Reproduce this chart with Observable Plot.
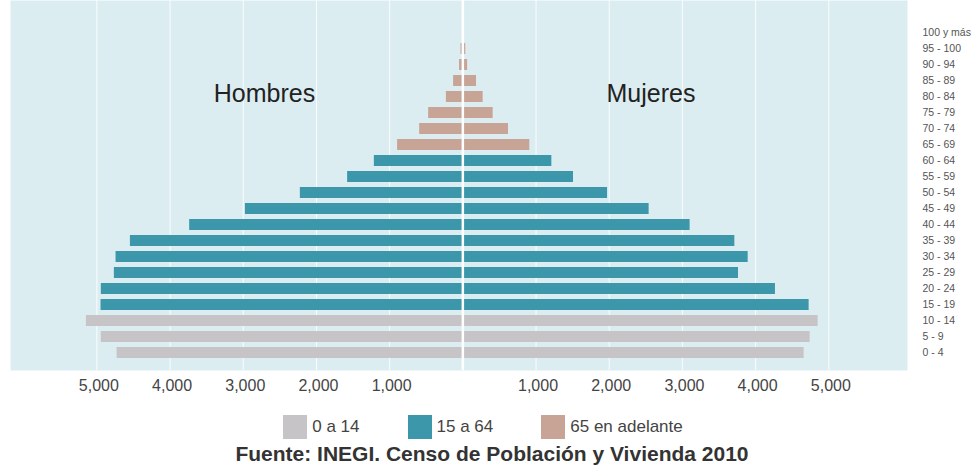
<!DOCTYPE html>
<html>
<head>
<meta charset="utf-8">
<script src="https://cdn.jsdelivr.net/npm/d3@7"></script>
<script src="https://cdn.jsdelivr.net/npm/@observablehq/plot@0.6"></script>
<style>
  html, body { margin: 0; padding: 0; background: #ffffff; }
  body { width: 974px; height: 472px; overflow: hidden; font-family: "Liberation Sans", Arial, sans-serif; }
  #chart svg { display: block; }
  #legend { padding-right: 8px; }
  div.leg-swatches { font-family: "Liberation Sans", Arial, sans-serif !important; font-size: 17px !important; color: #444; justify-content: center; margin: 10px 0 0 0 !important; min-height: 33px; }
  .leg-swatches .leg-swatch { margin-right: 48px !important; }
  .leg-swatches .leg-swatch:last-child { margin-right: 0 !important; }
  .leg-swatches .leg-swatch > svg { margin-right: 5px !important; }
  #caption { text-align: center; font-weight: bold; font-size: 21px; line-height: 22px; color: #333; margin-top: 0px; padding-left: 10px; }
</style>
</head>
<body>
<div id="chart"></div>
<div id="legend"></div>
<div id="caption">Fuente: INEGI. Censo de Población y Vivienda 2010</div>
<script>
// Age groups, bottom (youngest) to top (oldest)
const ages = ["0 - 4", "5 - 9", "10 - 14", "15 - 19", "20 - 24", "25 - 29", "30 - 34", "35 - 39",
  "40 - 44", "45 - 49", "50 - 54", "55 - 59", "60 - 64", "65 - 69", "70 - 74", "75 - 79",
  "80 - 84", "85 - 89", "90 - 94", "95 - 100", "100 y más"];
// Population
const hombres = [4724, 4939, 5143, 4943, 4939, 4761, 4738, 4542, 3732, 2971, 2220, 1574, 1209, 891, 590, 467, 225, 126, 45, 25, 5];
const mujeres = [4663, 4745, 4854, 4731, 4271, 3766, 3898, 3716, 3105, 2545, 1977, 1512, 1216, 915, 624, 414, 277, 187, 65, 40, 8];
// Broad age group of each row
const grupoDeEdad = ["0 a 14", "0 a 14", "0 a 14", "15 a 64", "15 a 64", "15 a 64", "15 a 64", "15 a 64",
  "15 a 64", "15 a 64", "15 a 64", "15 a 64", "15 a 64", "65 en adelante", "65 en adelante", "65 en adelante",
  "65 en adelante", "65 en adelante", "65 en adelante", "65 en adelante", "65 en adelante"];
const grupos = ["0 a 14", "15 a 64", "65 en adelante"];
const coloresGrupo = ["#c6c4c7", "#3b97a9", "#c8a496"];
const xTicks = [-5000, -4000, -3000, -2000, -1000, 1000, 2000, 3000, 4000, 5000];
const sexos = ["Hombres", "Mujeres"];

const rows = [];
ages.forEach((age, i) => {
  rows.push({age, sexo: "Hombres", value: hombres[i], grupo: grupoDeEdad[i], signed: -hombres[i]});
  rows.push({age, sexo: "Mujeres", value: mujeres[i], grupo: grupoDeEdad[i], signed: mujeres[i]});
});

const fmt = d3.format(",");

const plot = Plot.plot({
  width: 974,
  height: 400,
  marginLeft: 10,
  marginRight: 67,
  marginTop: 0,
  marginBottom: 30,
  style: {fontFamily: "'Liberation Sans', Arial, sans-serif", background: "transparent"},
  x: {domain: [-6180, 6075]},
  y: {domain: ages.slice().reverse(), range: [24, 360], paddingInner: 0.33, paddingOuter: 0.165, align: 0.5},
  color: {domain: grupos, range: coloresGrupo},
  marks: [
    Plot.frame({fill: "#dcedf1", stroke: null}),
    Plot.ruleX(xTicks, {stroke: "#ffffff", strokeOpacity: 0.85, strokeWidth: 1}),
    Plot.barX(rows, {y: "age", x1: 0, x2: "signed", fill: "grupo"}),
    Plot.ruleX([0], {stroke: "#ffffff", strokeWidth: 2.5}),
    Plot.text(sexos, {
      x: d => d === "Hombres" ? -2710 : 2570,
      y: () => "80 - 84",
      text: d => d,
      fontSize: 25,
      fill: "#222",
      dy: -3
    }),
    Plot.axisX({ticks: xTicks, tickFormat: d => fmt(Math.abs(d)), tickSize: 0, tickPadding: 9,
      fontSize: 16, color: "#444", label: null, dx: 2}),
    Plot.axisY({anchor: "right", tickSize: 0, tickPadding: 15, fontSize: 10.5, color: "#555", label: null})
  ]
});
document.getElementById("chart").appendChild(plot);

const legend = plot.legend("color", {legend: "swatches", swatchSize: 24, className: "leg"});
document.getElementById("legend").appendChild(legend);
</script>
</body>
</html>
